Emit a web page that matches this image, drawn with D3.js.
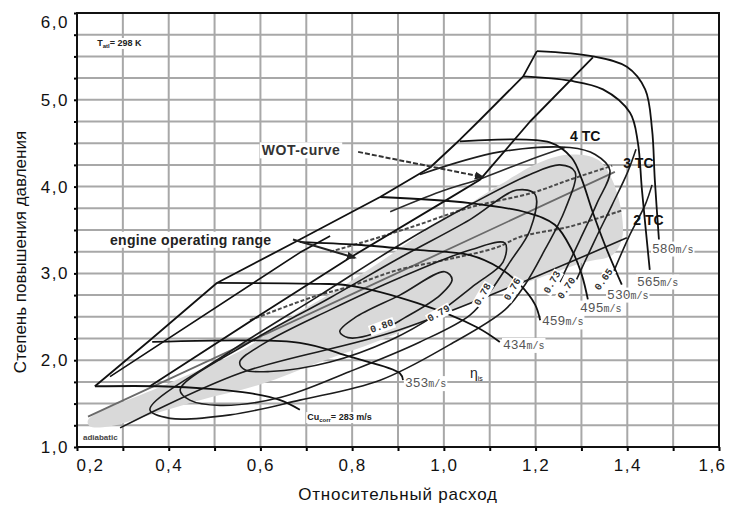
<!DOCTYPE html>
<html>
<head>
<meta charset="utf-8">
<script src="https://cdn.jsdelivr.net/npm/d3@7"></script>
<style>
  body { margin: 0; background: #fff; }
  svg { font-family: "Liberation Sans", Arial, sans-serif; }
</style>
</head>
<body>
<div id="chart"></div>
<script>
const WIDTH = 735
const HEIGHT = 505
const MARGIN = { TOP: 13, RIGHT: 16, BOTTOM: 58, LEFT: 77 }
const PW = WIDTH - MARGIN.LEFT - MARGIN.RIGHT
const PH = HEIGHT - MARGIN.TOP - MARGIN.BOTTOM

// axes
const xTicks = [0.2, 0.4, 0.6, 0.8, 1.0, 1.2, 1.4, 1.6]
const xTickLabels = ["0,2", "0,4", "0,6", "0,8", "1,0", "1,2", "1,4", "1,6"]
const yTicks = [1, 2, 3, 4, 5, 6]
const yTickLabels = ["1,0", "2,0", "3,0", "4,0", "5,0", "6,0"]

// map envelope
const surgeLine = [[0.239, 1.70], [0.359, 2.23], [0.505, 2.89], [0.686, 3.39], [0.861, 3.88],
  [0.970, 4.22], [1.035, 4.54], [1.079, 4.77], [1.173, 5.27], [1.203, 5.56]]
const outerLine = [[0.359, 1.70], [0.593, 2.50], [0.795, 3.18], [1.007, 3.85], [1.079, 4.08],
  [1.188, 4.75], [1.325, 5.49]]
const innerLine = [[0.272, 1.81], [0.686, 3.24], [0.752, 3.43]]

// speed lines (corrected tip speed, m/s)
const speedValues = ["580", "565", "530", "495", "459", "434", "353"]
const speed580 = [[1.203, 5.56], [1.325, 5.50], [1.399, 5.38], [1.439, 5.12], [1.454, 4.66], [1.460, 4.08], [1.469, 3.39]]
const speed565 = [[1.173, 5.27], [1.275, 5.22], [1.347, 5.12], [1.406, 4.85], [1.423, 4.51], [1.432, 3.96], [1.449, 3.04]]
const speed530 = [[1.035, 4.52], [1.231, 4.51], [1.279, 4.33], [1.301, 4.08], [1.323, 3.73], [1.351, 3.33], [1.388, 2.87]]
const speed495 = [[0.861, 3.88], [1.057, 3.81], [1.181, 3.70], [1.242, 3.56], [1.279, 3.27], [1.301, 2.98], [1.314, 2.70]]
const speed459 = [[0.686, 3.36], [0.811, 3.33], [0.941, 3.27], [1.057, 3.21], [1.122, 3.06], [1.166, 2.87], [1.199, 2.64], [1.210, 2.46]]
const speed434 = [[0.505, 2.89], [0.730, 2.88], [0.795, 2.86], [0.941, 2.66], [1.072, 2.38], [1.122, 2.21]]
const speed353 = [[0.364, 2.21], [0.686, 2.20], [0.795, 2.04], [0.904, 1.85], [0.911, 1.77]]
const speed283 = [[0.239, 1.70], [0.381, 1.70], [0.490, 1.67], [0.577, 1.62], [0.643, 1.54], [0.686, 1.43]]
const speedLabelPos = [[1.454, 3.24], [1.421, 2.86], [1.356, 2.71], [1.297, 2.56], [1.214, 2.40], [1.129, 2.13], [0.915, 1.69]]

// efficiency contours
const effValues = ["0.80", "0.79", "0.78", "0.76", "0.73", "0.70", "0.65"]
const eff080 = [[0.773, 2.33], [0.806, 2.49], [0.904, 2.75], [1.002, 3.02], [1.018, 2.93], [0.992, 2.75],
  [0.915, 2.49], [0.850, 2.31], [0.791, 2.26]]
const eff079 = [[0.555, 1.98], [0.610, 2.20], [0.752, 2.58], [0.904, 2.95], [1.057, 3.27], [1.133, 3.35],
  [1.129, 3.13], [1.068, 2.87], [0.981, 2.52], [0.883, 2.23], [0.752, 1.98], [0.621, 1.87], [0.566, 1.89]]
const eff078 = [[0.425, 1.66], [0.577, 2.21], [0.752, 2.72], [0.904, 3.18], [1.057, 3.62], [1.159, 3.96],
  [1.199, 3.91], [1.188, 3.50], [1.144, 3.13], [1.101, 2.79], [1.057, 2.52], [0.948, 2.21], [0.795, 1.87],
  [0.643, 1.57], [0.512, 1.48], [0.446, 1.54]]
const eff076 = [[0.359, 1.43], [0.534, 2.10], [0.730, 2.75], [0.904, 3.33], [1.057, 3.79], [1.188, 4.14],
  [1.253, 4.25], [1.286, 4.17], [1.264, 3.73], [1.220, 3.27], [1.177, 2.87], [1.133, 2.58], [1.013, 2.18],
  [0.861, 1.77], [0.686, 1.54], [0.534, 1.37], [0.403, 1.33]]
const eff073 = [[0.948, 4.14], [1.122, 4.40], [1.275, 4.45], [1.330, 4.37], [1.362, 4.19], [1.334, 3.81], [1.297, 3.39], [1.253, 2.90]]
const eff070 = [[1.286, 2.89], [1.330, 3.39], [1.367, 3.79], [1.401, 4.17], [1.419, 4.43]]
const eff065 = [[1.367, 2.98], [1.406, 3.45], [1.439, 3.79], [1.454, 4.02]]
const effLabelPos = [[0.867, 2.36], [0.992, 2.51], [1.090, 2.74], [1.155, 2.80], [1.242, 2.88], [1.273, 2.81], [1.354, 2.91]]

// engine operating range and operating lines
const rangeUpper = [[0.224, 1.31], [0.403, 1.74], [0.571, 2.15], [0.664, 2.49], [0.773, 2.83], [0.861, 3.13],
  [0.948, 3.45], [1.035, 3.73], [1.122, 4.02], [1.210, 4.28], [1.275, 4.37], [1.336, 4.31], [1.367, 4.08],
  [1.388, 3.68], [1.388, 3.39]]
const rangeLower = [[1.367, 3.21], [1.308, 3.13], [1.210, 2.95], [1.101, 2.75], [0.992, 2.52], [0.861, 2.23],
  [0.730, 1.98], [0.599, 1.72], [0.468, 1.54], [0.359, 1.37], [0.272, 1.24], [0.228, 1.24]]
const adiabaticLine = [[0.224, 1.35], [0.795, 2.75], [1.373, 4.17]]
const lowerLine = [[0.294, 1.22], [0.555, 1.85], [0.904, 2.35], [1.399, 3.41]]
const wot4 = [[0.883, 3.71], [0.992, 3.94], [1.085, 4.10], [1.188, 4.31], [1.264, 4.45]]
const wot3 = [[0.752, 3.25], [0.824, 3.36], [0.933, 3.54], [1.057, 3.76], [1.194, 3.93], [1.275, 4.08], [1.367, 4.24]]
const wot2 = [[0.577, 2.46], [0.715, 2.73], [0.795, 2.85], [0.900, 3.04], [1.007, 3.16], [1.116, 3.30],
  [1.166, 3.42], [1.275, 3.54], [1.391, 3.73]]

const svg = d3.select("#chart").append("svg")
  .attr("width", WIDTH)
  .attr("height", HEIGHT)
const g = svg.append("g")
  .attr("transform", `translate(${MARGIN.LEFT}, ${MARGIN.TOP})`)

const x = d3.scaleLinear().domain([0.2, 1.6]).range([0, PW])
const y = d3.scaleLinear().domain([1, 6]).range([PH, 0])

const gridLayer = g.append("g")
const fillLayer = g.append("g")
const lineLayer = g.append("g")
const textLayer = g.append("g")

// grid
gridLayer.selectAll(".gx").data(d3.range(3, 16).map(d => d / 10)).join("line")
  .attr("x1", d => x(d)).attr("x2", d => x(d))
  .attr("y1", 0).attr("y2", PH)
  .attr("stroke", "#a8a8a8").attr("stroke-width", 2)
gridLayer.selectAll(".gy").data(d3.range(5, 24).map(d => d / 4)).join("line")
  .attr("x1", 0).attr("x2", PW)
  .attr("y1", d => y(d)).attr("y2", d => y(d))
  .attr("stroke", "#a8a8a8").attr("stroke-width", 2)

// axes
const xMinor = d3.axisBottom(x).tickValues(d3.range(2, 17).map(d => d / 10)).tickSize(4).tickFormat("")
g.append("g").attr("transform", `translate(0, ${PH})`).call(xMinor)
  .call(a => a.select(".domain").remove())
  .selectAll("line").attr("stroke", "#000").attr("stroke-width", 2)
const xAxis = d3.axisBottom(x).tickValues(xTicks).tickSize(0).tickPadding(12)
  .tickFormat((d, i) => xTickLabels[i])
g.append("g").attr("transform", `translate(0, ${PH})`).call(xAxis)
  .call(a => a.select(".domain").remove())
  .selectAll("text")
  .attr("font-size", 17).attr("font-family", "Liberation Sans, Arial, sans-serif")
  .attr("letter-spacing", 1.5).attr("fill", "#111")
  .attr("dx", (d, i) => i === 0 ? 13 : i === xTicks.length - 1 ? -7 : 0)

const yMinor = d3.axisLeft(y).tickValues(d3.range(4, 25).map(d => d / 4)).tickSize(3).tickFormat("")
g.append("g").call(yMinor)
  .call(a => a.select(".domain").remove())
  .selectAll("line").attr("stroke", "#000").attr("stroke-width", 2)
const yAxis = d3.axisLeft(y).tickValues(yTicks).tickSize(0).tickPadding(8)
  .tickFormat((d, i) => yTickLabels[i])
g.append("g").call(yAxis)
  .call(a => a.select(".domain").remove())
  .selectAll("text")
  .attr("font-size", 17).attr("font-family", "Liberation Sans, Arial, sans-serif")
  .attr("letter-spacing", 1.5).attr("fill", "#111")
  .attr("dy", (d, i) => i === yTicks.length - 1 ? "0.85em" : "0.32em")

// shaded engine operating range
fillLayer.append("path")
  .attr("d", d3.line().x(d => x(d[0])).y(d => y(d[1])).curve(d3.curveCatmullRomClosed)(rangeUpper.concat(rangeLower)))
  .attr("fill", "#d9d9d9")

const smooth = d3.line().x(d => x(d[0])).y(d => y(d[1])).curve(d3.curveCatmullRom.alpha(0.5))
const loop = d3.line().x(d => x(d[0])).y(d => y(d[1])).curve(d3.curveCatmullRomClosed.alpha(0.5))
const straight = d3.line().x(d => x(d[0])).y(d => y(d[1]))

function drawLine(path, gen, color, width, dash) {
  lineLayer.append("path")
    .attr("d", gen(path))
    .attr("fill", "none")
    .attr("stroke", color)
    .attr("stroke-width", width)
    .attr("stroke-dasharray", dash || null)
    .attr("stroke-linejoin", "round")
}

// operating lines
drawLine(adiabaticLine, straight, "#6a6a6a", 1.8)
drawLine(lowerLine, smooth, "#1c1c1c", 1.6)
drawLine(wot2, smooth, "#4a4a4a", 2, "4,2")
drawLine(wot3, smooth, "#4a4a4a", 2, "4,2")
drawLine(wot4, smooth, "#2a2a2a", 1.6)

// efficiency contours
;[eff080, eff079, eff078, eff076].forEach(p => drawLine(p, loop, "#1c1c1c", 1.6))
;[eff073, eff070, eff065].forEach(p => drawLine(p, smooth, "#1c1c1c", 1.6))

// envelope and speed lines
drawLine(surgeLine, straight, "#111", 1.8)
drawLine(outerLine, straight, "#111", 1.8)
drawLine(innerLine, straight, "#111", 1.6)
const speedLines = [speed580, speed565, speed530, speed495, speed459, speed434, speed353, speed283]
speedLines.forEach(p => drawLine(p, smooth, "#111", 1.8))

// labels
function label(pos, parts, opts) {
  const grp = textLayer.append("g")
    .attr("transform", `translate(${x(pos[0])}, ${y(pos[1])}) rotate(${opts.angle || 0})`)
  const t = grp.append("text")
    .attr("text-anchor", opts.anchor || "start")
    .attr("font-family", opts.font || "Liberation Sans, Arial, sans-serif")
    .attr("font-size", opts.size)
    .attr("font-weight", opts.weight || "normal")
    .attr("letter-spacing", opts.spacing || 0)
    .attr("fill", opts.color || "#222")
  parts.forEach(p => {
    t.append("tspan")
      .attr("font-size", p.size || null)
      .attr("dy", p.dy || null)
      .text(p.text)
  })
  if (opts.bg) {
    const b = t.node().getBBox()
    const pad = opts.pad || 1
    grp.insert("rect", "text")
      .attr("x", b.x - pad).attr("y", b.y)
      .attr("width", b.width + 2 * pad).attr("height", b.height)
      .attr("fill", "#fff")
  }
}

const mono = "Liberation Mono, DejaVu Sans Mono, monospace"
speedValues.forEach((v, i) => {
  label(speedLabelPos[i], [{ text: v }, { text: "m/s", size: 10 }],
    { font: mono, size: 13, color: "#555", bg: true })
})
label([0.702, 1.31], [{ text: "Cu" }, { text: "corr", size: 6, dy: 2 }, { text: "= 283 m/s", dy: -2 }],
  { size: 9, weight: "bold", color: "#222", bg: true })

const effAngles = [-20, -30, -60, -60, -60, -55, -55]
effValues.forEach((v, i) => {
  label(effLabelPos[i], [{ text: v }],
    { font: mono, size: 10, weight: "bold", color: "#333", anchor: "middle", angle: effAngles[i], bg: true })
})

label([0.244, 5.62], [{ text: "T" }, { text: "atl", size: 6, dy: 2 }, { text: "= 298 K", dy: -2 }],
  { size: 9, weight: "bold", color: "#222", bg: true, pad: 3 })
label([0.603, 4.36], [{ text: "WOT-curve" }], { size: 14, weight: "bold", color: "#333", spacing: 0.5, bg: true, pad: 2 })
label([0.272, 3.33], [{ text: "engine operating range" }], { size: 14, weight: "bold", color: "#222", spacing: 0.3, bg: true, pad: 3 })
label([1.275, 4.52], [{ text: "4 TC" }], { size: 14, weight: "bold", color: "#111" })
label([1.391, 4.22], [{ text: "3 TC" }], { size: 14, weight: "bold", color: "#111" })
label([1.413, 3.56], [{ text: "2 TC" }], { size: 14, weight: "bold", color: "#111" })
label([1.057, 1.80], [{ text: "η" }, { text: "is", size: 7, dy: 3 }], { size: 14, color: "#222" })
label([0.213, 1.08], [{ text: "adiabatic" }], { size: 8, weight: "bold", color: "#444" })

// arrows
const defs = svg.append("defs")
defs.append("marker").attr("id", "head")
  .attr("viewBox", "0 0 10 10").attr("refX", 8).attr("refY", 5)
  .attr("markerWidth", 5).attr("markerHeight", 5).attr("orient", "auto")
  .append("path").attr("d", "M0,1 L10,5 L0,9 Z").attr("fill", "#222")
lineLayer.append("line")
  .attr("x1", x(0.813)).attr("y1", y(4.40)).attr("x2", x(1.085)).attr("y2", y(4.11))
  .attr("stroke", "#333").attr("stroke-width", 2).attr("stroke-dasharray", "5,2")
  .attr("marker-end", "url(#head)")
lineLayer.append("line")
  .attr("x1", x(0.671)).attr("y1", y(3.39)).attr("x2", x(0.806)).attr("y2", y(3.18))
  .attr("stroke", "#222").attr("stroke-width", 2)
  .attr("marker-end", "url(#head)")

// frame
g.append("rect")
  .attr("width", PW).attr("height", PH)
  .attr("fill", "none").attr("stroke", "#111").attr("stroke-width", 2)

// axis titles
svg.append("text")
  .attr("transform", `translate(26, ${MARGIN.TOP + PH / 2 + 22}) rotate(-90)`)
  .attr("text-anchor", "middle")
  .attr("font-size", 17)
  .attr("fill", "#111")
  .text("Степень повышения давления")
svg.append("text")
  .attr("x", 398).attr("y", 500)
  .attr("text-anchor", "middle")
  .attr("font-size", 17)
  .attr("letter-spacing", 0.8)
  .attr("fill", "#111")
  .text("Относительный расход")
</script>
</body>
</html>
